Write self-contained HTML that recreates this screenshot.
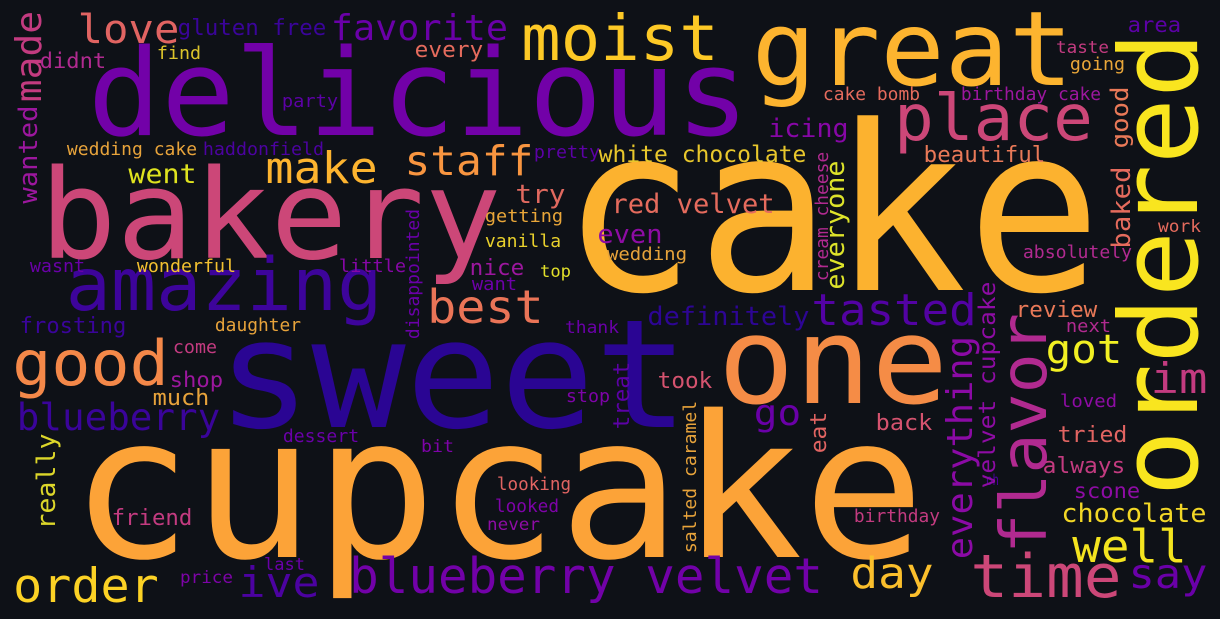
<!DOCTYPE html>
<html><head><meta charset="utf-8"><title>Word cloud</title>
<style>
html,body{margin:0;padding:0;background:#0e1117;}
#wc{display:block;width:1220px;height:619px;background:#0e1117;}
text{font-family:"DejaVu Sans Mono","Liberation Mono",monospace;}
</style></head>
<body>
<svg id="wc" xmlns="http://www.w3.org/2000/svg" width="1220" height="619" viewBox="0 0 1220 619">
<rect x="0" y="0" width="1220" height="619" fill="#0e1117"/>
<g id="words"></g>
</svg>
<script>
// horizontal words: [word, inkLeft, inkRight, baseline, fontSize, color]
const hWords = [
["delicious",95,742,135,120,"#7201a8"],
["cake",575,1088,290,230,"#fcb22f"],
["cupcake",82,913,557,198,"#fca338"],
["sweet",226,680,427,151,"#2a0593"],
["bakery",47,494,258,124,"#cc4778"],
["amazing",70,378,310,73,"#3d049b"],
["great",758,1067,85,103,"#fdb42f"],
["moist",525,715,60,63,"#fdc926"],
["place",898,1089,140,64,"#cc4778"],
["one",725,941,403,120,"#f58c46"],
["love",80,177,43,40,"#e16462"],
["gluten free",179,325,35,22,"#3a049a"],
["favorite",333,506,40,36,"#6a00a8"],
["didnt",41,105,68,21,"#b12a90"],
["find",158,200,59,18,"#dcc42b"],
["every",416,482,57,22,"#e56b5d"],
["party",283,337,107,18,"#5c01a6"],
["wedding cake",68,196,155,18,"#e7a33b"],
["haddonfield",204,323,155,18,"#4c02a1"],
["make",268,375,183,44,"#fdb42f"],
["staff",407,531,175,41,"#f89540"],
["pretty",535,599,158,18,"#5c01a6"],
["went",130,195,183,27,"#dfe31f"],
["try",517,564,203,26,"#e0695f"],
["getting",486,562,222,18,"#e9a639"],
["vanilla",486,560,247,18,"#e8d02c"],
["wasnt",31,84,272,18,"#6a00a8"],
["wonderful",138,235,272,18,"#f3c130"],
["little",340,405,272,18,"#8707a6"],
["nice",471,523,275,22,"#9c179e"],
["top",541,570,277,17,"#e2e02a"],
["want",473,516,290,18,"#6e00a8"],
["area",1129,1180,32,21,"#5c01a6"],
["taste",1057,1108,53,17,"#c33b80"],
["going",1071,1124,70,18,"#e9a639"],
["cake bomb",824,919,100,18,"#e56b5d"],
["birthday cake",962,1100,100,18,"#9c179e"],
["icing",770,847,137,26,"#8707a6"],
["white chocolate",600,805,162,23,"#e8c72c"],
["beautiful",925,1044,162,22,"#e97958"],
["red velvet",613,773,213,27,"#e56b5d"],
["even",599,661,243,26,"#8e0ca4"],
["wedding",608,686,260,18,"#e7a33b"],
["absolutely",1024,1131,258,18,"#b12a90"],
["work",1159,1200,232,17,"#e56b5d"],
["tasted",814,974,325,44,"#5302a3"],
["frosting",21,125,333,22,"#3a049a"],
["daughter",216,300,331,18,"#e7a33b"],
["best",430,541,323,46,"#ea7457"],
["come",174,216,353,18,"#c33b80"],
["good",16,165,385,62,"#f48849"],
["shop",171,222,387,21,"#9c179e"],
["much",154,208,405,22,"#e7a33b"],
["thank",566,618,333,17,"#6a00a8"],
["stop",567,609,402,18,"#7e03a8"],
["blueberry",19,218,430,37,"#3a049a"],
["dessert",284,358,442,18,"#6a00a8"],
["bit",422,453,452,17,"#7e03a8"],
["looking",498,570,490,18,"#e16462"],
["looked",496,558,512,18,"#7e03a8"],
["never",488,539,530,17,"#8e0ca4"],
["friend",113,191,525,22,"#c33b80"],
["last",265,304,570,17,"#6a00a8"],
["price",181,232,583,17,"#7e03a8"],
["order",16,156,602,47,"#fcd225"],
["ive",241,317,597,42,"#4c02a1"],
["blueberry velvet",352,820,593,49,"#7201a8"],
["definitely",649,808,325,26,"#2d0594"],
["review",1017,1096,317,22,"#e97958"],
["next",1067,1110,332,18,"#b12a90"],
["got",1048,1120,363,40,"#f2f023"],
["im",1153,1205,393,42,"#c33b80"],
["took",659,711,388,22,"#d5536f"],
["go",756,799,425,36,"#6a00a8"],
["back",877,931,430,22,"#d5536f"],
["oh",987,998,485,15,"#4c02a1"],
["loved",1061,1116,407,18,"#8e0ca4"],
["tried",1059,1126,442,22,"#e16462"],
["always",1044,1124,473,22,"#c33b80"],
["scone",1075,1139,498,21,"#8e0ca4"],
["chocolate",1063,1205,522,26,"#f2d726"],
["birthday",855,939,522,18,"#c33b80"],
["well",1075,1184,562,45,"#f4e41f"],
["day",853,931,588,43,"#fbbf2c"],
["time",974,1118,597,60,"#cc4778"],
["say",1131,1205,588,41,"#6a00a8"]
];
// vertical words (read upward): [word, baselineX, inkTop, inkBottom, fontSize, color]
const vWords = [
["made",41,13,100,36,"#c33b80"],
["wanted",37,107,202,26,"#9c179e"],
["disappointed",419,210,338,18,"#6a00a8"],
["good",1128,88,147,24,"#e97958"],
["baked",1130,168,247,26,"#e56b5d"],
["ordered",1197,38,490,108,"#f9e51f"],
["cream cheese",828,153,280,18,"#b12a90"],
["everyone",844,162,288,26,"#dde32a"],
["really",55,435,528,26,"#dcd62a"],
["treat",629,363,428,22,"#5c01a6"],
["salted caramel",696,402,552,18,"#e7a33b"],
["eat",826,413,452,22,"#e16462"],
["everything",972,338,557,36,"#8b0aa5"],
["velvet cupcake",995,283,487,23,"#8e0ca4"],
["flavor",1046,317,550,64,"#b12a90"]
];
const NS = "http://www.w3.org/2000/svg";
const g = document.getElementById("words");
function slug(w){return w.replace(/\s+/g,"-");}
hWords.forEach(function(d){
  const fs = d[4];
  const t = document.createElementNS(NS,"text");
  t.setAttribute("x", (d[1] - 0.06*fs).toFixed(1));
  t.setAttribute("y", d[3]);
  t.setAttribute("font-size", fs);
  t.setAttribute("fill", d[5]);
  t.setAttribute("textLength", ((d[2]-d[1]) + 0.12*fs).toFixed(1));
  t.setAttribute("lengthAdjust", "spacingAndGlyphs");
  t.textContent = d[0];
  
  
  g.appendChild(t);
});
vWords.forEach(function(d){
  const fs = d[4];
  const t = document.createElementNS(NS,"text");
  t.setAttribute("transform", "translate(" + d[1] + "," + (d[3] + 0.06*fs).toFixed(1) + ") rotate(-90)");
  t.setAttribute("x", 0);
  t.setAttribute("y", 0);
  t.setAttribute("font-size", fs);
  t.setAttribute("fill", d[5]);
  t.setAttribute("textLength", ((d[3]-d[2]) + 0.12*fs).toFixed(1));
  t.setAttribute("lengthAdjust", "spacingAndGlyphs");
  t.textContent = d[0];
  
  
  g.appendChild(t);
});
</script>
</body></html>
